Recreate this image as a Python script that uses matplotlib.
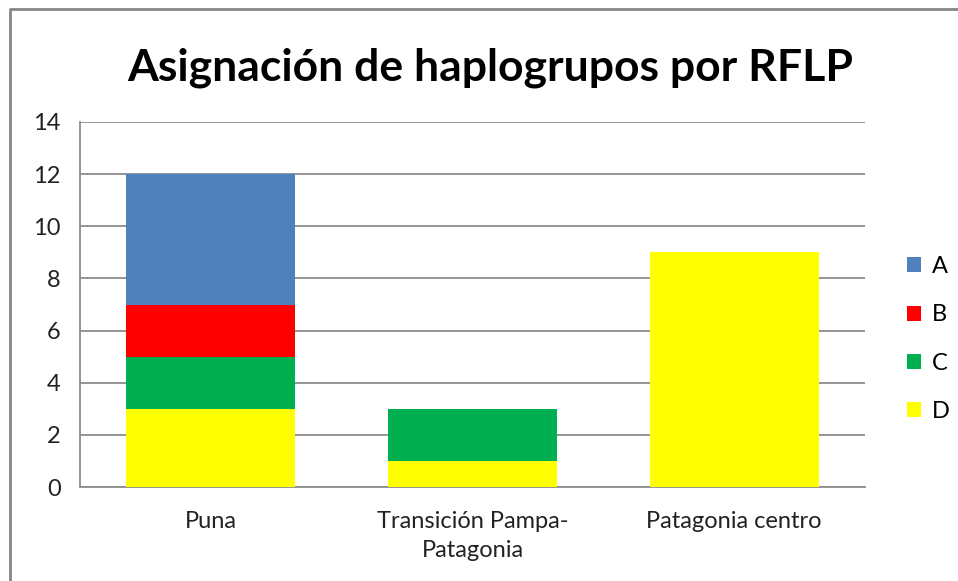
import matplotlib
matplotlib.use('Agg')
import matplotlib.pyplot as plt
from matplotlib.lines import Line2D
from matplotlib.patches import Patch

# datos
categorias = ['Puna', 'Transición Pampa-\nPatagonia', 'Patagonia centro']
grupos = ['A', 'B', 'C', 'D']
D = [3, 1, 9]
C = [2, 2, 0]
B = [2, 0, 0]
A = [5, 0, 0]
colores = {'A': '#4F81BD', 'B': '#FF0000', 'C': '#00B050', 'D': '#FFFF00'}
yticks = [0, 2, 4, 6, 8, 10, 12, 14]

plt.rcParams['font.family'] = ['Lato', 'DejaVu Sans']

fig = plt.figure(figsize=(9.58, 5.81), dpi=100)
ax = fig.add_axes([80 / 958, 1 - 487 / 581, 785 / 958, 365 / 581])

x = list(range(len(categorias)))
ancho = 0.645
abajo = [0] * len(x)
for nombre, vals in [('D', D), ('C', C), ('B', B), ('A', A)]:
    ax.bar(x, vals, ancho, bottom=abajo, color=colores[nombre], zorder=3)
    abajo = [a + v for a, v in zip(abajo, vals)]

ax.set_xlim(-0.5, 2.5)
ax.set_ylim(0, 14)
ax.set_yticks(yticks)
ax.set_xticks(x)
ax.set_xticklabels(categorias, fontsize=17, color='#222222', linespacing=1.5)
ax.tick_params(axis='y', labelsize=17, length=0, pad=14, labelcolor='#222222')
ax.tick_params(axis='x', length=0, pad=17)
ax.yaxis.grid(True, color='#8c8c8c', linewidth=1.3, zorder=0)
for s in ['top', 'right']:
    ax.spines[s].set_visible(False)
for s in ['left', 'bottom']:
    ax.spines[s].set_color('#8c8c8c')
    ax.spines[s].set_linewidth(1.3)

fig.text(490 / 958, 1 - 80 / 581, 'Asignación de haplogrupos por RFLP',
         ha='center', va='baseline', fontsize=32, fontweight='bold')

handles = [Patch(facecolor=colores[g], label=g) for g in grupos]
fig.legend(handles=handles, loc='center left', bbox_to_anchor=(886 / 958, 1 - 339 / 581),
           frameon=False, fontsize=17, handlelength=0.6, handleheight=0.6,
           handletextpad=0.45, labelspacing=1.15)

# marco
fig.add_artist(Line2D([10 / 958, 10 / 958, 1], [0, 1 - 9 / 581, 1 - 9 / 581],
                      transform=fig.transFigure, color='#868686', linewidth=2))

fig.savefig('out.png', dpi=100)
